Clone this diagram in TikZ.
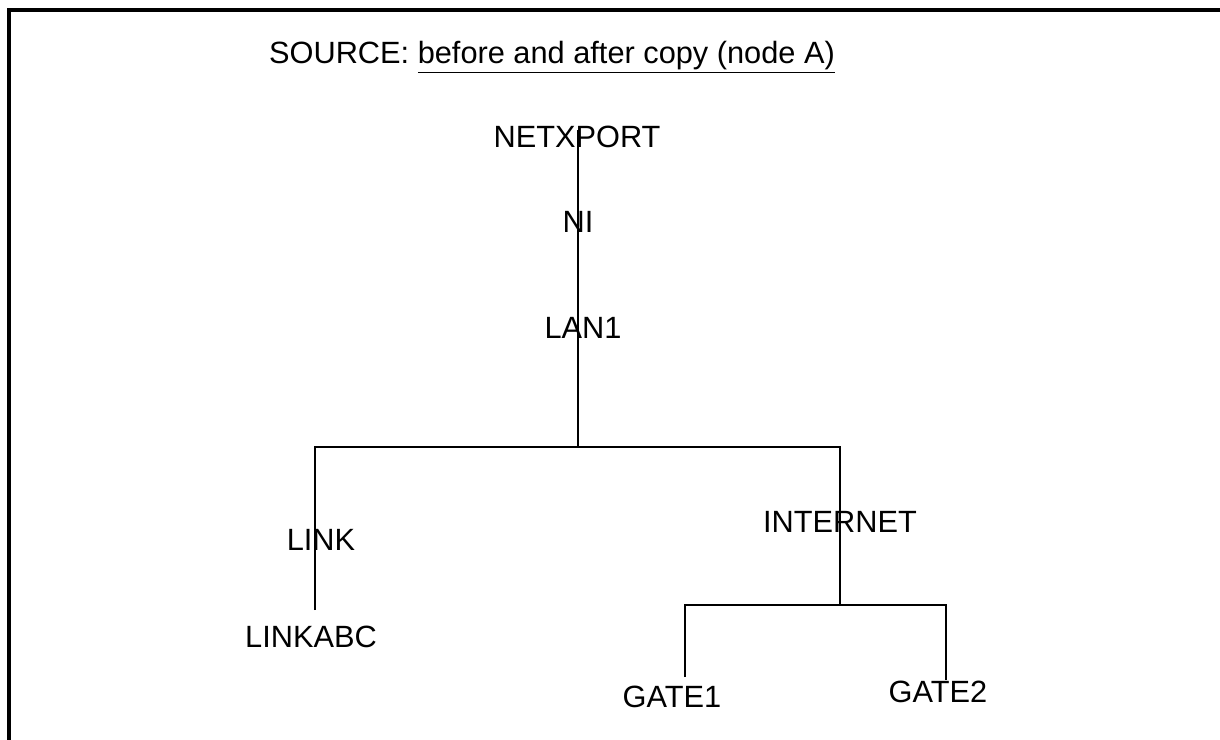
\documentclass[tikz,border=0pt]{standalone}
\usepackage{fontspec}
\setmainfont{Liberation Sans}
\usepackage{tikz}
\usetikzlibrary{positioning}

\begin{document}
\begin{tikzpicture}[x=0.02cm, y=-0.02cm]
    \useasboundingbox (0,0) rectangle (1220,740);
    % frame
    \draw[line width=2pt] (1220,10) -- (9,10) -- (9,740);
    \begin{scope}[every node/.style = {font=\fontsize{17.5}{20}\selectfont, inner sep=0pt, anchor=center}]
        \node (title) at (552,57) {SOURCE: \underline{before and after copy (node A)}};
        \node (netxport) at (577,137) {NETXPORT};
        \node (ni) at (578,222) {NI};
        \node (lan1) at (583,328) {LAN1};
        \node (link) at (321,540) {LINK};
        \node (linkabc) at (311,637) {LINKABC};
        \node (internet) at (840,522) {INTERNET};
        \node (gate1) at (672,697) {GATE1};
        \node (gate2) at (938,692) {GATE2};
    \end{scope}
    \coordinate (top) at (578,130);
    \coordinate (hub) at (578,447);
    \coordinate (hubL) at (315,447);
    \coordinate (hubR) at (840,447);
    \coordinate (endL) at (315,610);
    \coordinate (gates) at (840,605);
    \coordinate (gatesL) at (685,605);
    \coordinate (gatesR) at (946,605);
    \coordinate (end1) at (685,677);
    \coordinate (end2) at (946,680);
    \begin{scope}[line width=1.3pt]
        \draw (top) -- (hub);
        \draw (endL) -- (hubL) -- (hubR) -- (gates);
        \draw (end1) -- (gatesL) -- (gatesR) -- (end2);
    \end{scope}
\end{tikzpicture}
\end{document}
